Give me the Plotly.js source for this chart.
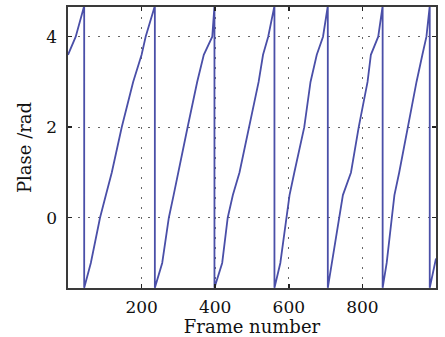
<!DOCTYPE html>
<html>
<head>
<meta charset="utf-8">
<script src="https://cdn.plot.ly/plotly-3.0.1.min.js"></script>
<style>html,body{margin:0;padding:0;background:#fff;}#chart{width:445px;height:337px;}</style>
</head>
<body>
<div id="chart"></div>
<script>
// Frame numbers and wrapped phase values (rad)
const frames = [
  0, 21, 44,
  44, 62, 87, 103, 119, 146, 177, 200, 211, 236,
  236, 256, 274, 287, 299, 325, 351, 369, 392, 398,
  398, 419, 434, 448, 466, 492, 518, 530, 544, 561,
  561, 577, 593, 602, 615, 642, 659, 676, 693, 706,
  706, 717, 735, 747, 769, 790, 814, 823, 843, 855,
  855, 866, 880, 887, 900, 923, 947, 963, 974, 983,
  983, 1000
];
const phase = [
  3.6, 4.0, 4.68,
  -1.55, -1.0, 0.0, 0.5, 1.0, 2.0, 3.0, 3.6, 4.0, 4.68,
  -1.55, -1.0, 0.0, 0.5, 1.0, 2.0, 3.0, 3.6, 4.0, 4.68,
  -1.55, -1.0, 0.0, 0.5, 1.0, 2.0, 3.0, 3.6, 4.0, 4.68,
  -1.55, -1.0, 0.0, 0.5, 1.0, 2.0, 3.0, 3.6, 4.0, 4.68,
  -1.55, -1.0, 0.0, 0.5, 1.0, 2.0, 3.0, 3.6, 4.0, 4.68,
  -1.55, -1.0, 0.0, 0.5, 1.0, 2.0, 3.0, 3.6, 4.0, 4.68,
  -1.55, -0.9
];
const xTicks = [200, 400, 600, 800];
const yTicks = [0, 2, 4];

const serif = "DejaVu Serif, Liberation Serif, serif";

const trace = {
  x: frames, y: phase, type: 'scatter', mode: 'lines',
  line: {color: '#4a4fa8', width: 1.8},
  hoverinfo: 'skip'
};

const axisCommon = {
  showline: true, mirror: 'ticks', linecolor: '#3a3a3a', linewidth: 1.6,
  ticks: 'inside', ticklen: 4, tickwidth: 1.5, tickcolor: '#222',
  showgrid: true, gridcolor: '#666', gridwidth: 1.3, griddash: '2px,8px',
  zeroline: false, tickfont: {family: serif, size: 17, color: '#111'}
};

const layout = {
  width: 445, height: 337,
  margin: {l: 68, r: 9, t: 7, b: 49},
  paper_bgcolor: '#fff', plot_bgcolor: '#fff',
  showlegend: false,
  xaxis: Object.assign({}, axisCommon, {
    range: [0, 1000], tickmode: 'array', tickvals: xTicks,
    ticktext: xTicks.map(String), ticklabelstandoff: 3,
    title: {text: 'Frame number', font: {family: serif, size: 18, color: '#111'}, standoff: 1}
  }),
  yaxis: Object.assign({}, axisCommon, {
    range: [-1.553, 4.656], tickmode: 'array', tickvals: yTicks,
    ticktext: yTicks.map(String), ticklabelstandoff: 6,
    title: {text: 'Plase /rad', font: {family: serif, size: 18, color: '#111'}, standoff: 10}
  })
};

Plotly.newPlot('chart', [trace], layout, {displayModeBar: false, staticPlot: true});
</script>
</body>
</html>
